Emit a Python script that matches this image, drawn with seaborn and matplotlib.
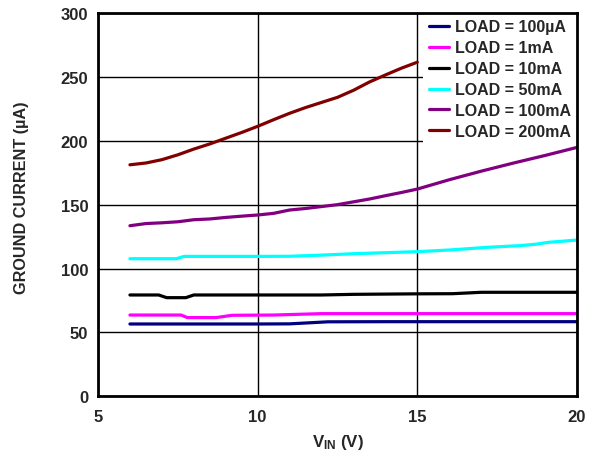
import numpy as np
import pandas as pd
import matplotlib
matplotlib.use("Agg")
import matplotlib.pyplot as plt
import seaborn as sns

# ---- data ----
labels = ["LOAD = 100µA", "LOAD = 1mA", "LOAD = 10mA",
          "LOAD = 50mA", "LOAD = 100mA", "LOAD = 200mA"]
colors = ["#000080", "#ff00ff", "#000000", "#00ffff", "#800080", "#800000"]

x_100uA = [6, 8, 10, 11, 11.6, 12.2, 14, 16, 18, 20]
y_100uA = [56.6, 56.6, 56.6, 56.7, 57.5, 58.3, 58.4, 58.4, 58.4, 58.4]

x_1mA = [6, 7.6, 7.8, 8.7, 9.2, 10.5, 12.0, 14, 16, 18, 20]
y_1mA = [63.6, 63.6, 61.6, 61.6, 63.4, 63.6, 64.7, 64.7, 64.7, 64.7, 64.7]

x_10mA = [6, 6.9, 7.15, 7.75, 8.0, 10, 12, 13, 15, 16.1, 17.0, 18, 20]
y_10mA = [79.3, 79.3, 77.2, 77.2, 79.3, 79.3, 79.3, 79.8, 80.2, 80.3, 81.4, 81.4, 81.4]

x_50mA = [6, 7.45, 7.7, 10, 11, 12, 13, 14, 15, 16, 17.2, 18.2, 18.7, 19.1, 20]
y_50mA = [107.7, 107.7, 109.5, 109.5, 109.6, 110.5, 111.6, 112.4, 113.2, 114.5,
          116.6, 117.9, 119.0, 120.5, 122.3]

x_100mA = [6, 6.5, 7, 7.5, 8, 8.5, 9, 9.5, 10, 10.5, 11, 11.5, 12, 12.5, 13,
           13.5, 14, 14.5, 15, 16, 17, 18, 19, 20]
y_100mA = [133.5, 135.2, 135.8, 136.6, 138.2, 138.8, 140.0, 141.0, 141.9, 143.2,
           145.8, 147.0, 148.5, 150.0, 152.2, 154.4, 157.0, 159.5, 162.2, 169.5,
           176.2, 182.5, 188.5, 194.8]

x_200mA = [6, 6.5, 7, 7.5, 8, 8.5, 9, 9.5, 10, 10.5, 11, 11.5, 12, 12.5, 13,
           13.5, 14, 14.5, 15]
y_200mA = [181.2, 182.6, 185.2, 189.0, 193.5, 197.5, 202.0, 206.5, 211.3, 216.5,
           221.5, 226.0, 230.0, 234.0, 239.5, 246.0, 251.5, 256.8, 261.5]

xs = [x_100uA, x_1mA, x_10mA, x_50mA, x_100mA, x_200mA]
ys = [y_100uA, y_1mA, y_10mA, y_50mA, y_100mA, y_200mA]

x_ticks = [5, 10, 15, 20]
y_ticks = [0, 50, 100, 150, 200, 250, 300]

frames = [pd.DataFrame({"vin": x, "ig": y, "load": lab})
          for x, y, lab in zip(xs, ys, labels)]
df = pd.concat(frames, ignore_index=True)

# ---- style ----
sns.set_style("white")
plt.rcParams["font.family"] = ["Liberation Sans", "DejaVu Sans"]
plt.rcParams["font.weight"] = "bold"
plt.rcParams["mathtext.fontset"] = "custom"
plt.rcParams["mathtext.rm"] = "Liberation Sans:bold"
plt.rcParams["mathtext.bf"] = "Liberation Sans:bold"
plt.rcParams["mathtext.it"] = "Liberation Sans:bold"

fig = plt.figure(figsize=(5.96, 4.56), dpi=100)
ax = fig.add_axes([98 / 596, 1 - 397.3 / 456, 479 / 596, 383.3 / 456])

sns.lineplot(data=df, x="vin", y="ig", hue="load", hue_order=labels,
             palette=colors, estimator=None, errorbar=None, sort=True,
             linewidth=2.3, ax=ax, legend=True)

ax.set_xlim(5, 20)
ax.set_ylim(0, 300)
ax.set_xticks(x_ticks)
ax.set_yticks(y_ticks)
ax.set_xticklabels([str(v) for v in x_ticks], fontsize=12, fontweight="bold")
ax.set_yticklabels([str(v) for v in y_ticks], fontsize=12, fontweight="bold")
ax.tick_params(axis="x", length=0, pad=9)
ax.tick_params(axis="y", length=0, pad=7)

ax.grid(True, color="black", linewidth=1.0)
ax.set_axisbelow(True)
for s in ax.spines.values():
    s.set_visible(True)
    s.set_color("black")
    s.set_linewidth(2.0)
    s.set_zorder(10)

ax.set_xlabel(r"$\mathbf{V_{IN}}$ (V)", fontsize=12.2, fontweight="bold")
ax.set_ylabel("GROUND CURRENT (µA)", fontsize=11.7, fontweight="bold")
ax.xaxis.set_label_coords(0.5, -0.092)
ax.yaxis.set_label_coords(-0.145, 0.52)

handles, labs = ax.get_legend_handles_labels()
leg = ax.legend(handles, labs, loc="upper right", borderaxespad=0,
                frameon=True, fancybox=False, facecolor="white",
                edgecolor="none", framealpha=1.0,
                prop={"family": "Liberation Sans", "weight": "bold", "size": 11.5},
                handlelength=1.2, handletextpad=0.38, labelspacing=0.37,
                borderpad=0.4)
for h in leg.get_lines():
    h.set_linewidth(2.3)
leg.set_zorder(5)

fig.savefig("out.png", dpi=100)
